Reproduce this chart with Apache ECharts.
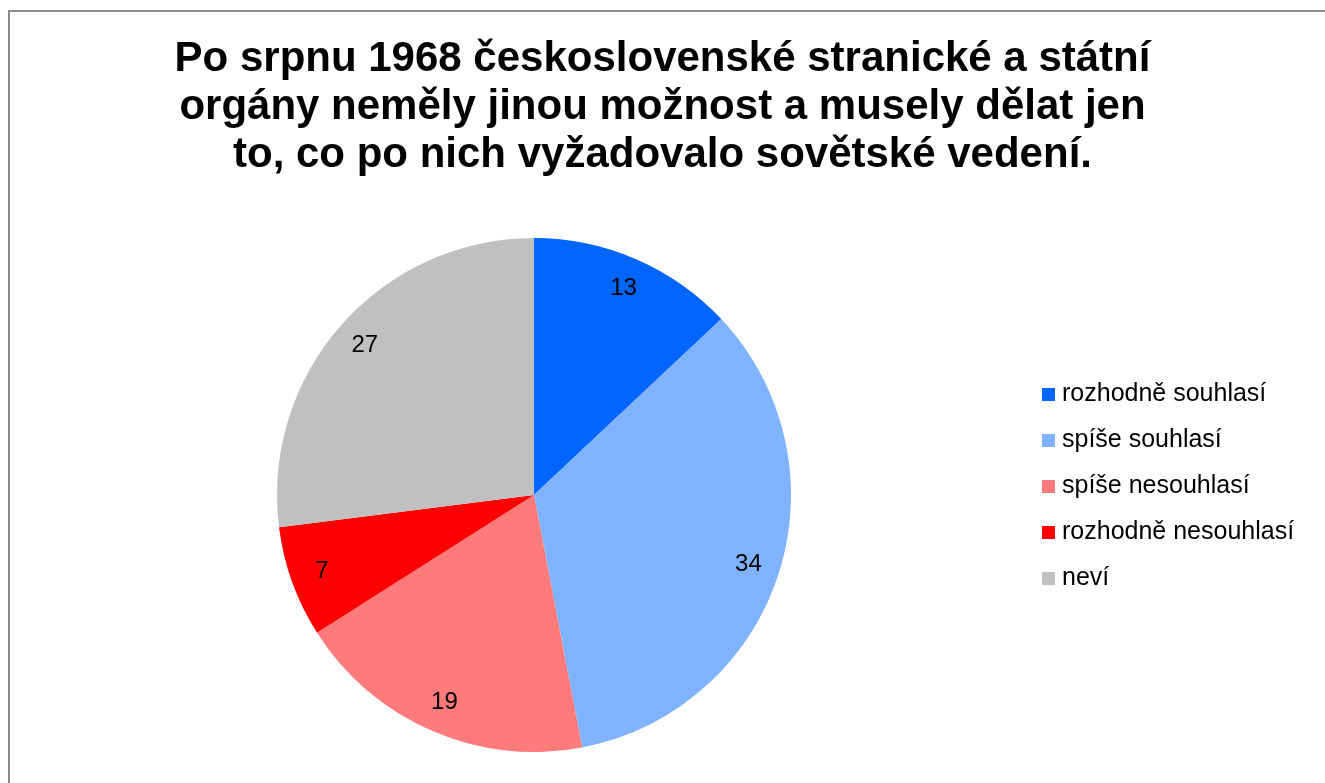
<!DOCTYPE html>
<html>
<head>
<meta charset="utf-8">
<script src="https://cdn.jsdelivr.net/npm/echarts@6/dist/echarts.min.js"></script>
<style>
  html, body { margin: 0; padding: 0; background: #fff; }
  #frame { position: absolute; left: 8px; top: 10px; width: 1330px; height: 790px; border: 2px solid #8c8c8c; box-sizing: border-box; }
  #chart { position: absolute; left: 0; top: 0; width: 1325px; height: 783px; }
</style>
</head>
<body>
<div id="frame"></div>
<div id="chart"></div>
<script>
const titleText = 'Po srpnu 1968 československé stranické a státní\norgány neměly jinou možnost a musely dělat jen\nto, co po nich vyžadovalo sovětské vedení.';
const categories = ['rozhodně souhlasí', 'spíše souhlasí', 'spíše nesouhlasí', 'rozhodně nesouhlasí', 'neví'];
const values = [13, 34, 19, 7, 27];
const colors = ['#0066ff', '#80b3ff', '#ff7a7a', '#ff0000', '#c0c0c0'];

const chart = echarts.init(document.getElementById('chart'));
const data = categories.map((c, i) => ({ name: c, value: values[i], itemStyle: { color: colors[i] } }));

chart.setOption({
    animation: false,
    title: {
        text: titleText, left: 'center', top: 30,
        textStyle: { fontFamily: 'Liberation Sans', fontWeight: 'bold', fontSize: 42, lineHeight: 48, color: '#000' }
    },
    legend: {
        orient: 'vertical', left: 1042, top: 382, padding: 0,
        itemWidth: 13, itemHeight: 13, itemGap: 21, icon: 'rect',
        data: categories,
        textStyle: { fontFamily: 'Liberation Sans', fontSize: 25, lineHeight: 25, color: '#000', padding: [0, 0, 0, 2] }
    },
    series: [{
        type: 'pie', center: [534, 495], radius: [0, 257],
        startAngle: 90, clockwise: true,
        label: { show: false }, labelLine: { show: false },
        data: data
    }, {
        // transparent ring only used to place the value labels
        type: 'pie', center: [534, 495], radius: [188, 257],
        startAngle: 90, clockwise: true, silent: true,
        legendHoverLink: false,
        label: { show: true, position: 'inside', formatter: '{c}', fontFamily: 'Liberation Sans', fontSize: 24, color: '#000', padding: [12, 0, 0, 0] },
        labelLine: { show: false },
        data: values.map((v, i) => ({ name: categories[i] + ' ', value: v, itemStyle: { color: 'transparent' } }))
    }]
});
</script>
</body>
</html>
